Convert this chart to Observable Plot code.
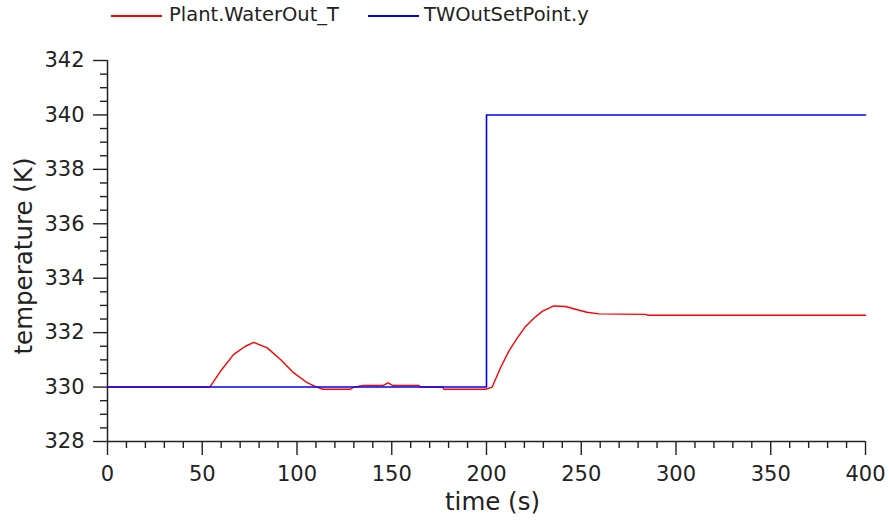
<!DOCTYPE html>
<html>
<head>
<meta charset="utf-8">
<script src="https://cdn.jsdelivr.net/npm/d3@7"></script>
<script src="https://cdn.jsdelivr.net/npm/@observablehq/plot@0.6"></script>
<style>
  html, body { margin: 0; padding: 0; background: #fff; }
  body { width: 889px; height: 520px; overflow: hidden; font-family: "DejaVu Sans", sans-serif; }
  #legend { position: relative; height: 32px; width: 889px; }
  .sw { position: absolute; top: 15px; height: 2px; width: 51px; }
  .lt { position: absolute; top: 3px; font-size: 19.5px; color: #222; white-space: nowrap; line-height: 24px; }
</style>
</head>
<body>
<div id="legend"></div>
<div id="chart"></div>
<script>
// Series: Plant.WaterOut_T (red)
const time = [0, 54, 59.6, 66.6, 72.8, 77.2, 84.3, 91.3, 98.3, 105.4, 110, 113.8, 128.2, 130, 135, 145.6, 148, 150.4, 164.3, 165, 177, 177.5, 199.5, 203, 207.4, 211.8, 216.2, 220.6, 225, 229.4, 235.5, 241.7, 247.9, 253, 259.3, 284, 285, 400];
const waterOut = [330, 330, 330.58, 331.2, 331.5, 331.64, 331.44, 331.01, 330.52, 330.16, 330.01, 329.92, 329.92, 330, 330.06, 330.06, 330.15, 330.06, 330.06, 330, 330, 329.92, 329.92, 330, 330.71, 331.32, 331.8, 332.23, 332.53, 332.78, 332.98, 332.96, 332.84, 332.75, 332.69, 332.67, 332.64, 332.64];
// Series: TWOutSetPoint.y (blue)
const setTime = [0, 200, 200, 400];
const setPoint = [330, 330, 340, 340];
// Ticks
const xMajor = [0, 50, 100, 150, 200, 250, 300, 350, 400];
const xMinor = d3.range(0, 401, 10).filter(v => v % 50 !== 0);
const yMajor = [328, 330, 332, 334, 336, 338, 340, 342];
const yMinor = d3.range(328, 342.01, 0.5).filter(v => v % 2 !== 0);
const seriesNames = ["Plant.WaterOut_T", "TWOutSetPoint.y"];
const seriesColors = ["#ff0000", "#0000ff"];
const xLabel = "time (s)";
const yLabel = "temperature (K)";

const redData = time.map((t, i) => ({t, v: waterOut[i]}));
const blueData = setTime.map((t, i) => ({t, v: setPoint[i]}));

// Legend
const legend = document.getElementById("legend");
const legendPos = [{sw: 111, tx: 169}, {sw: 368, tx: 424}];
seriesNames.forEach((name, i) => {
  const s = document.createElement("div");
  s.className = "sw";
  s.style.left = legendPos[i].sw + "px";
  s.style.background = seriesColors[i];
  legend.appendChild(s);
  const t = document.createElement("div");
  t.className = "lt";
  t.style.left = legendPos[i].tx + "px";
  t.textContent = name;
  legend.appendChild(t);
});

const chart = Plot.plot({
  width: 889,
  height: 488,
  marginTop: 28,
  marginBottom: 79,
  marginLeft: 107,
  marginRight: 24,
  style: {fontFamily: "DejaVu Sans", color: "#222", background: "#fff"},
  x: {domain: [0, 400]},
  y: {domain: [328, 342]},
  marks: [
    Plot.axisY({ticks: yMinor, tickSize: 7, tickFormat: () => "", label: null, strokeWidth: 1.4}),
    Plot.axisY({ticks: yMajor, tickSize: 14, tickPadding: 9, fontSize: 21, label: null, strokeWidth: 1.4}),
    Plot.axisX({ticks: xMinor, tickSize: 7, tickFormat: () => "", label: null, strokeWidth: 1.4}),
    Plot.axisX({ticks: xMajor, tickSize: 14, tickPadding: 11, fontSize: 21, label: null, strokeWidth: 1.4}),
    Plot.ruleX([0], {strokeWidth: 1.5, stroke: "#222"}),
    Plot.ruleY([328], {strokeWidth: 1.5, stroke: "#222"}),
    Plot.line(redData, {x: "t", y: "v", stroke: seriesColors[0], strokeWidth: 1.4}),
    Plot.line(blueData, {x: "t", y: "v", stroke: seriesColors[1], strokeWidth: 1.6}),
    Plot.text([yLabel], {text: d => d, frameAnchor: "left", textAnchor: "middle", lineAnchor: "middle", rotate: -90, dx: -83, dy: 5, fontSize: 24.5, fill: "#222"}),
    Plot.text([xLabel], {text: d => d, frameAnchor: "bottom", textAnchor: "middle", lineAnchor: "middle", dx: 6, dy: 61, fontSize: 24.5, fill: "#222"})
  ]
});
document.getElementById("chart").appendChild(chart);
</script>
</body>
</html>
